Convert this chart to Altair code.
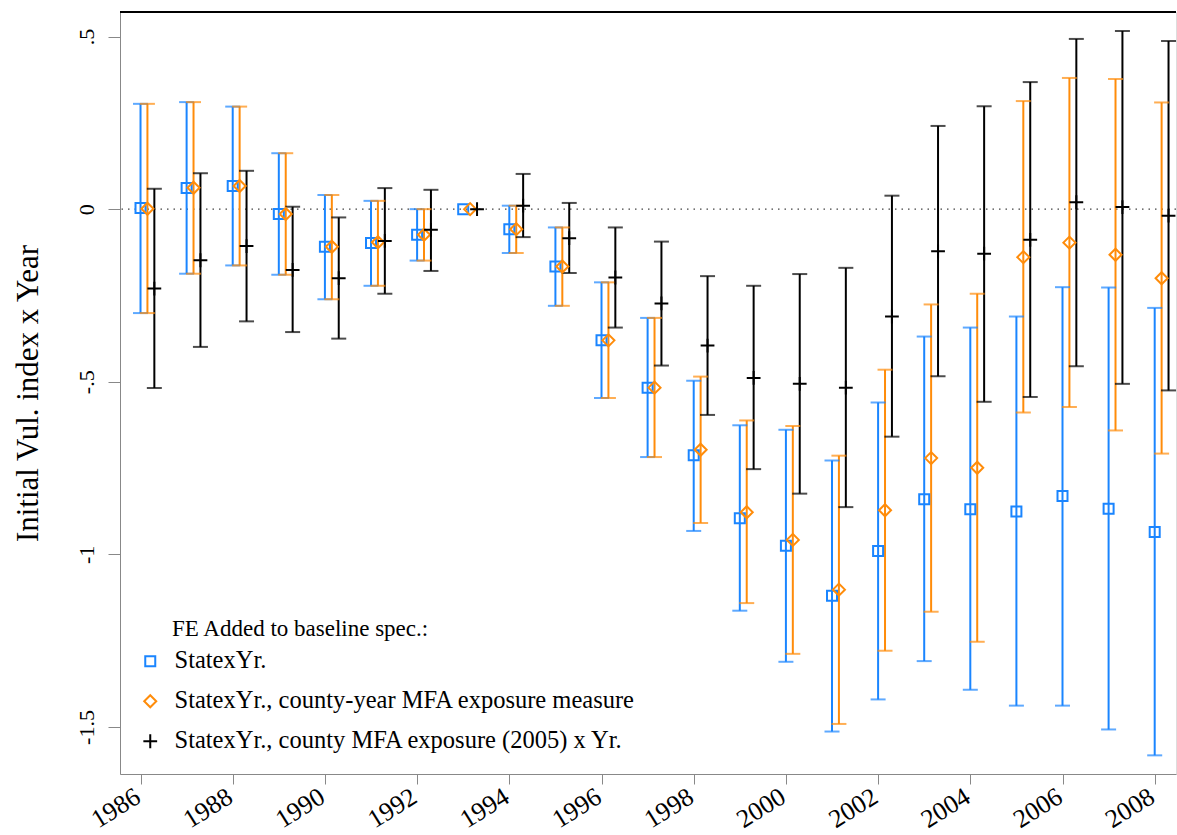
import altair as alt
import pandas as pd

# ---------------- data ----------------
years = list(range(1986, 2009))

series_names = [
    "StatexYr.",
    "StatexYr., county-year MFA exposure measure",
    "StatexYr., county MFA exposure (2005) x Yr.",
]

blue_b = [0.003, 0.061, 0.067, -0.014, -0.109, -0.098, -0.074, 0.0, -0.058, -0.166, -0.380, -0.517,
          -0.713, -0.895, -0.975, -1.120, -0.990, -0.840, -0.869, -0.876, -0.831, -0.868, -0.935]
blue_lo = [-0.301, -0.187, -0.163, -0.190, -0.261, -0.222, -0.149, 0.0, -0.127, -0.280, -0.547, -0.718,
           -0.932, -1.163, -1.311, -1.513, -1.420, -1.309, -1.392, -1.438, -1.438, -1.507, -1.582]
blue_hi = [0.305, 0.310, 0.297, 0.162, 0.041, 0.024, 0.000, 0.0, 0.010, -0.053, -0.212, -0.315,
           -0.497, -0.626, -0.639, -0.728, -0.560, -0.369, -0.343, -0.311, -0.226, -0.227, -0.286]

orange_b = [0.001, 0.062, 0.067, -0.014, -0.109, -0.096, -0.074, 0.0, -0.058, -0.166, -0.380, -0.517,
            -0.697, -0.878, -0.958, -1.102, -0.872, -0.721, -0.749, -0.139, -0.097, -0.132, -0.200]
orange_lo = [-0.301, -0.187, -0.163, -0.190, -0.261, -0.222, -0.149, 0.0, -0.127, -0.280, -0.547, -0.718,
             -0.909, -1.141, -1.288, -1.491, -1.279, -1.166, -1.253, -0.589, -0.573, -0.641, -0.708]
orange_hi = [0.305, 0.310, 0.297, 0.162, 0.041, 0.024, 0.000, 0.0, 0.010, -0.053, -0.212, -0.315,
             -0.485, -0.612, -0.628, -0.714, -0.465, -0.276, -0.245, 0.313, 0.380, 0.377, 0.309]

black_b = [-0.230, -0.148, -0.107, -0.176, -0.200, -0.092, -0.060, 0.0, 0.010, -0.084, -0.198, -0.273,
           -0.395, -0.489, -0.506, -0.517, -0.311, -0.122, -0.129, -0.089, 0.020, 0.006, -0.019]
black_lo = [-0.518, -0.399, -0.325, -0.356, -0.375, -0.245, -0.179, 0.0, -0.081, -0.185, -0.343, -0.453,
            -0.596, -0.753, -0.824, -0.863, -0.659, -0.484, -0.558, -0.544, -0.455, -0.506, -0.525]
black_hi = [0.059, 0.104, 0.111, 0.007, -0.024, 0.061, 0.056, 0.0, 0.102, 0.018, -0.053, -0.094,
            -0.194, -0.222, -0.188, -0.170, 0.039, 0.241, 0.298, 0.368, 0.493, 0.516, 0.487]

x_tick_values = list(range(1986, 2009, 2))
y_tick_values = [-1.5, -1.0, -0.5, 0.0, 0.5]
legend_title = "FE Added to baseline spec.:"
y_title = "Initial Vul. index x Year"

# ---------------- styling ----------------
FONT = "Liberation Serif"
colors = ["#1a85ff", "#ff8c0a", "#000000"]
shapes = ["square", "diamond", "M-1,0L1,0M0,-1L0,1"]
sizes = [100, 190, 70]
dodge = [0.0, 0.15, 0.30]  # horizontal dodge of the three series (in years)

W, H = 1056, 762
X_DOMAIN = [1985.555, 2008.462]
Y_DOMAIN = [-1.636, 0.571]

rows = []
for s, name in enumerate(series_names):
    b, lo, hi = [(blue_b, blue_lo, blue_hi), (orange_b, orange_lo, orange_hi), (black_b, black_lo, black_hi)][s]
    for i, yr in enumerate(years):
        rows.append({"series": name, "order": s, "year": yr, "xpos": yr + dodge[s],
                     "b": b[i], "lo": lo[i], "hi": hi[i], "has_ci": yr != 1993})
df = pd.DataFrame(rows)
ci = df[df["has_ci"]]

xs = alt.Scale(domain=X_DOMAIN, zero=False, nice=False)
ys = alt.Scale(domain=Y_DOMAIN, zero=False, nice=False)
col_scale = alt.Scale(domain=series_names, range=colors)
shp_scale = alt.Scale(domain=series_names, range=shapes)

x_axis = alt.Axis(values=x_tick_values, format="d", labelAngle=328, labelAlign="right",
                  labelBaseline="middle", labelFontSize=26, labelPadding=10, labelOffset=-3,
                  labelFont=FONT, labelColor="black", tickSize=10, title=None, grid=False,
                  labelOverlap=False, labelFlush=False)
y_axis = alt.Axis(values=y_tick_values, labelExpr="replace(toString(datum.value), '0.', '.')",
                  labelAngle=270, labelAlign="center", labelBaseline="bottom", labelFontSize=22,
                  labelFont=FONT, labelColor="black", labelPadding=10, tickSize=12,
                  title=y_title, titleFont=FONT, titleFontSize=31, titleColor="black",
                  titleFontWeight="normal", titlePadding=31, grid=False,
                  labelOverlap=False, labelFlush=False)

legend = alt.Legend(title=None, orient="none", legendX=18, legendY=637, padding=0,
                    labelFont=FONT, labelFontSize=24.5, labelColor="black", labelOffset=12,
                    labelLimit=0, symbolStrokeWidth=2, symbolSize=100, rowPadding=15)

color_leg = alt.Color("series:N", scale=col_scale, legend=legend, sort=series_names)
color_noleg = alt.Color("series:N", scale=col_scale, legend=None, sort=series_names)

base = alt.Chart(ci)

zero_line = alt.Chart(pd.DataFrame({"z": [0.0]})).mark_rule(
    color="#444444", strokeWidth=1.2, strokeDash=[1.5, 5]
).encode(y=alt.Y("z:Q", scale=ys, axis=y_axis))

top_line = alt.Chart(pd.DataFrame({"z": [0.0]})).mark_rule(color="black", strokeWidth=2).encode(
    x=alt.value(0), x2=alt.value(W), y=alt.value(0)
)

bars = base.mark_rule(strokeWidth=2).encode(
    x=alt.X("xpos:Q", scale=xs, axis=x_axis),
    y=alt.Y("lo:Q", scale=ys),
    y2="hi:Q",
    color=color_noleg,
)
caps_lo = base.mark_tick(orient="horizontal", size=15, thickness=2).encode(
    x=alt.X("xpos:Q", scale=xs), y=alt.Y("lo:Q", scale=ys), color=color_noleg,
)
caps_hi = base.mark_tick(orient="horizontal", size=15, thickness=2).encode(
    x=alt.X("xpos:Q", scale=xs), y=alt.Y("hi:Q", scale=ys), color=color_noleg,
)

points = alt.Chart(df).mark_point(filled=False, strokeWidth=2, opacity=1).encode(
    x=alt.X("xpos:Q", scale=xs),
    y=alt.Y("b:Q", scale=ys),
    color=color_leg,
    shape=alt.Shape("series:N", scale=shp_scale, legend=legend, sort=series_names),
    size=alt.Size("series:N", scale=alt.Scale(domain=series_names, range=sizes), legend=None),
)

title_text = alt.Chart(pd.DataFrame({"t": [legend_title]})).mark_text(
    align="left", baseline="alphabetic", font=FONT, fontSize=23, color="black"
).encode(x=alt.value(52), y=alt.value(624), text="t:N")

chart = alt.layer(zero_line, top_line, bars, caps_lo, caps_hi, points, title_text).resolve_legend(
    color="independent", shape="independent", size="independent"
).properties(
    width=W, height=H, autosize="none",
    padding={"left": 120, "top": 12, "right": 1, "bottom": 61},
).configure_view(stroke=None).configure_axis(
    labelFont=FONT, titleFont=FONT, labelColor="black", titleColor="black",
    domainColor="black", tickColor="black", domainWidth=2, tickWidth=2,
).configure_legend(labelFont=FONT).configure(background="white")

chart.save("out.html", embed_options={"renderer": "svg", "actions": False})
